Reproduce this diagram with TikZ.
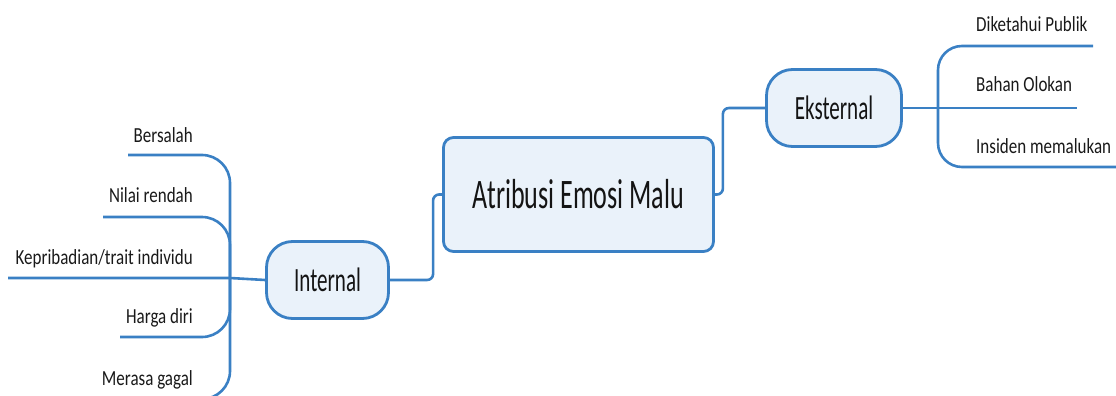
\documentclass[tikz,border=0pt]{standalone}
\usepackage{fontspec}
\setmainfont{Carlito}[FakeStretch=0.62]
\newfontfamily\leaffont{Carlito}[FakeStretch=0.79]
\definecolor{mapblue}{RGB}{58,128,196}
\definecolor{mapfill}{RGB}{234,242,250}
\tikzset{
  branch/.style={draw=mapblue, line width=2.6pt},
  topic/.style={draw=mapblue, fill=mapfill, line width=2.8pt, inner sep=0pt,
    font=\fontsize{34}{40}\selectfont, text=black!92},
  leaf/.style={inner sep=0pt, font=\leaffont\fontsize{21.5}{25}\selectfont, text=black!90},
}

\begin{document}
\begin{tikzpicture}[x=1pt,y=-1pt]
  \clip (0,0) rectangle (1116,396);
  \node[topic, rounded corners=10pt, minimum width=270pt, minimum height=114pt,
    font=\fontsize{42}{48}\selectfont] (malu) at (578.5,194.5) {Atribusi Emosi Malu};
  \node[topic, rounded corners=26pt, minimum width=122pt, minimum height=77pt] (internal) at (327.5,280) {Internal};
  \node[topic, rounded corners=26pt, minimum width=135pt, minimum height=77pt] (eksternal) at (834,108) {Eksternal};

  \node[leaf, anchor=base east] (bersalah) at (193,142) {Bersalah};
  \node[leaf, anchor=base east] (nilai) at (193,202) {Nilai rendah};
  \node[leaf, anchor=base east] (kepribadian) at (193,264) {Kepribadian/trait individu};
  \node[leaf, anchor=base east] (harga) at (193,323) {Harga diri};
  \node[leaf, anchor=base east] (gagal) at (193,385) {Merasa gagal};
  \node[leaf, anchor=base west] (publik) at (976,32) {Diketahui Publik};
  \node[leaf, anchor=base west] (olokan) at (976,92) {Bahan Olokan};
  \node[leaf, anchor=base west] (insiden) at (976,153) {Insiden memalukan};

  \coordinate (hubL) at (230,278);
  \coordinate (hubR) at (938,108);
  \coordinate (endBersalah) at (128,155);
  \coordinate (endNilai) at (103,217);
  \coordinate (endKepribadian) at (8,278);
  \coordinate (endHarga) at (120,337);
  \coordinate (endGagal) at (100,399);
  \coordinate (endPublik) at (1093,46);
  \coordinate (endOlokan) at (1077,108);
  \coordinate (endInsiden) at (1120,167);

  \draw[branch, rounded corners=6pt] (malu.east) -- ++(8,0) |- (eksternal.west);
  \draw[branch, rounded corners=6pt] (malu.west) -- ++(-9,0) |- (internal.east);

  \draw[branch] (internal.west) -- (hubL) -- (endKepribadian);
  \draw[branch, rounded corners=28pt] (hubL) |- (endBersalah);
  \draw[branch, rounded corners=28pt] (hubL) |- (endNilai);
  \draw[branch, rounded corners=28pt] (hubL) |- (endHarga);
  \draw[branch, rounded corners=28pt] (hubL) |- (endGagal);

  \draw[branch] (eksternal.east) -- (hubR) -- (endOlokan);
  \draw[branch, rounded corners=24pt] (hubR) |- (endPublik);
  \draw[branch, rounded corners=24pt] (hubR) |- (endInsiden);
\end{tikzpicture}
\end{document}
